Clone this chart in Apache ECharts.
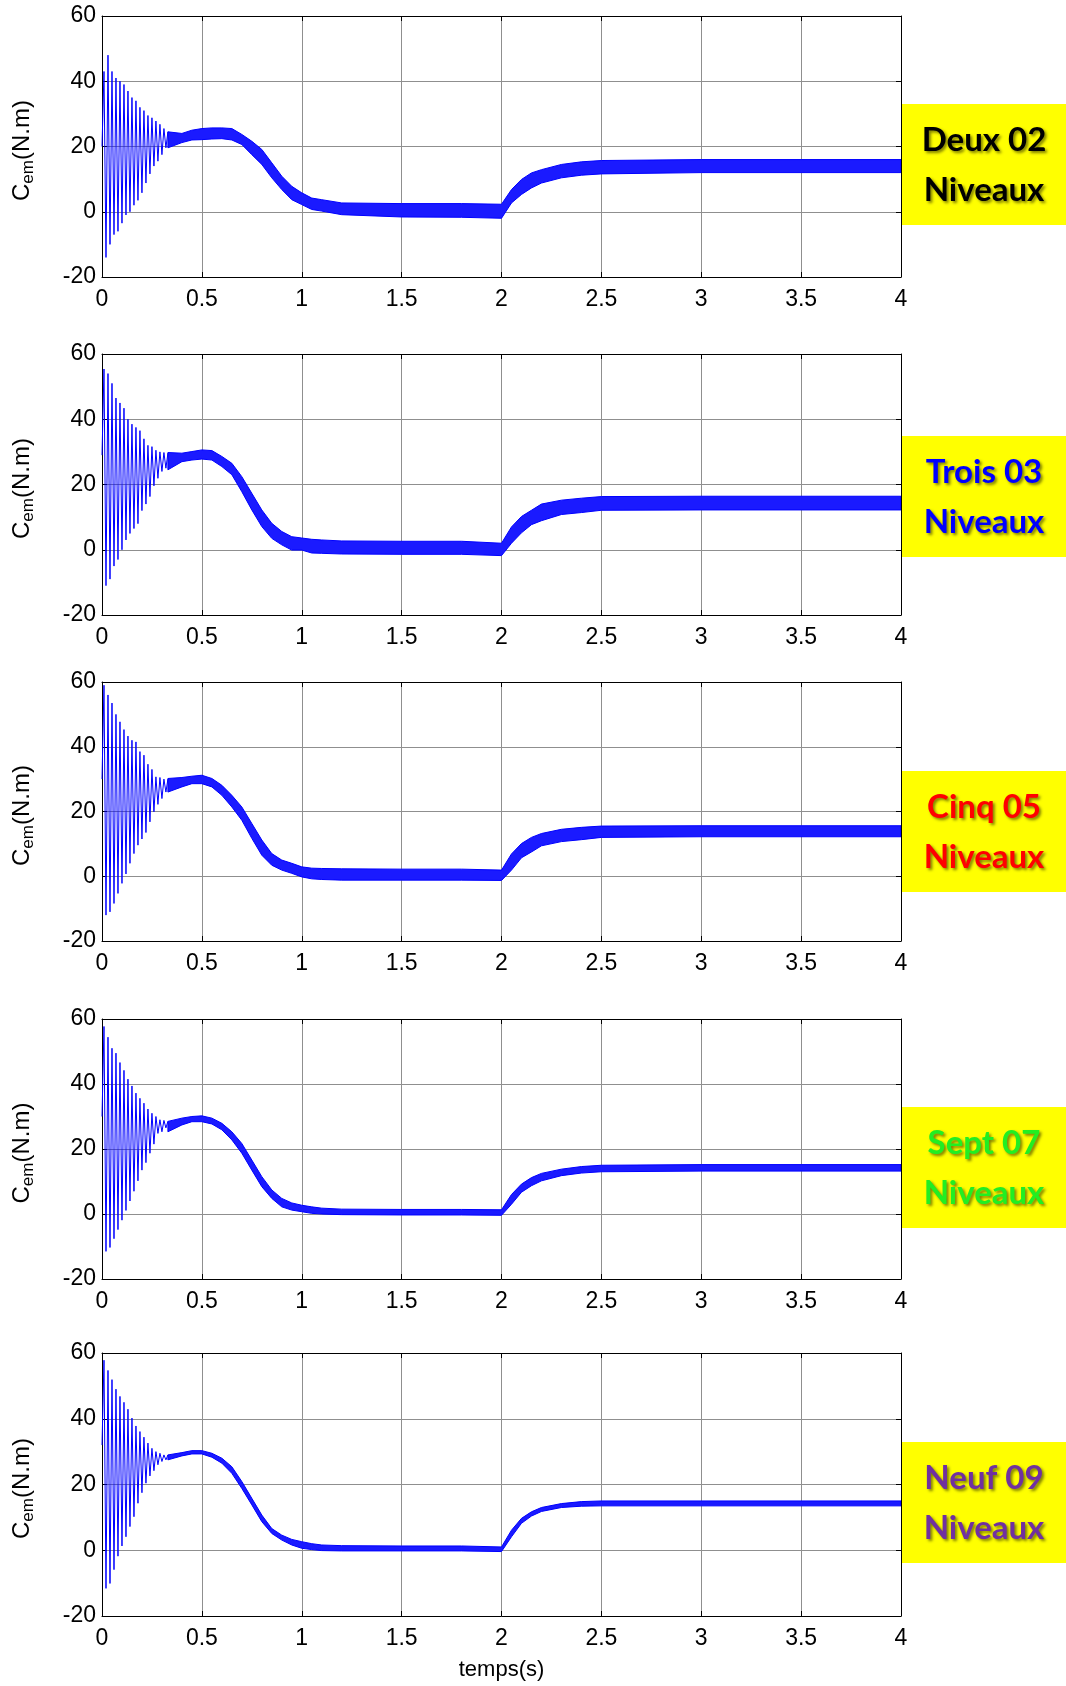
<!DOCTYPE html>
<html><head><meta charset="utf-8">
<script src="https://cdn.jsdelivr.net/npm/echarts@6/dist/echarts.min.js"></script>
<style>html,body{margin:0;padding:0;background:#fff}#c{width:1066px;height:1686px}</style>
</head><body><div id="c"></div>
<script>
// ---------- DATA ----------
// start-up transient: time points (s), alternating peaks / troughs
const tTrans = [0,0.01,0.02,0.03,0.04,0.05,0.06,0.07,0.08,0.09,0.10,0.11,0.12,0.13,0.14,0.15,0.16,0.17,0.18,0.19,0.20,0.21,0.22,0.23,0.24,0.25,0.26,0.27,0.28,0.29,0.30,0.31,0.32,0.33];
const trans2 = [20,43,-14,48,-10,43,-7,41,-6,40,-3.5,39,-1,37,0,35,2,34,3.5,32,5.8,31,8.8,29.5,11.6,28.8,14,27.8,15.5,26.8,17.5,25.5,19.6,24.5];
const trans3 = [29,55.4,-11,54,-9,51,-5,46.5,-3,45,0,43.4,3,40,5,38.5,6.5,37.5,8,36.5,12,34,14,32,16.3,31.6,19.6,30.5,21.9,30,24,29.8,25,29.6];
const trans5 = [30,59,-12,56,-11,53.5,-8.4,50,-5.3,47.7,-2.2,45.3,0.7,43.3,4,42,7,41.5,9.6,38.5,11.5,37.4,13.5,34.6,16.8,33,19.9,30.7,22.2,30.5,24,30,26,30];
const trans7 = [30,57.7,-11.5,54.4,-10.3,51,-7.6,49.5,-4.8,46.6,-1.9,44.2,1.1,41.5,4,39.4,7,37.2,10.2,35.6,13.5,34.1,15.8,32.3,18.7,31,21.5,30,24.8,29,25.3,28.8,26.5,28.5];
const trans9 = [32,57.8,-11.6,54.7,-10.1,51.9,-5.9,49,-1.8,46.8,1.3,45,4.1,42.9,7.2,40.2,10.2,37.8,14.3,36.1,17.5,34.4,20.4,32.6,22.6,31,24.2,30,26,29.5,27,29,27.5,29];

// ripple envelope after the transient: time points (s), upper / lower edge of the ripple band
const tEnv = [0.33,0.4,0.45,0.5,0.55,0.6,0.65,0.7,0.75,0.8,0.85,0.9,0.95,1.0,1.05,1.1,1.2,1.5,1.8,2.0,2.05,2.1,2.15,2.2,2.3,2.4,2.5,3.0,3.5,4.0];
const hi2 = [24.5,24,25,25.5,25.7,25.7,25.5,23.7,21.6,19.1,15,10.9,7.8,5.8,4.2,3.7,2.7,2.5,2.5,2.3,6.8,9.9,11.9,12.9,14.5,15.3,15.7,16,16,16];
const lo2 = [19.6,21.2,22,22.1,22.3,22.4,22,20.6,17.5,14.5,10.4,6.8,3.7,2.2,0.7,0.2,-0.9,-1.6,-1.7,-2,2.7,5.3,7.3,8.8,10.4,11.2,11.6,12,12,12];
const hi3 = [29.8,29.6,30.1,30.6,30.4,28.6,26.5,22.4,17.3,12.2,8.1,5.6,4,3.6,3.2,3,2.7,2.6,2.6,2,7,10.2,12.1,14,15.2,15.8,16.3,16.4,16.4,16.4];
const lo3 = [24.5,27,27.5,27.8,27.5,25.5,23,17.8,12.2,7.1,3.5,1.5,-0.1,-0.1,-1,-1.1,-1.3,-1.4,-1.4,-1.8,2,5.2,7.7,8.9,10.8,11.4,12.1,12.2,12.2,12.2];
const hi5 = [30.2,30.5,30.9,31.2,30.2,28.1,25,21.4,16.3,11.2,7,5,4,2.9,2.5,2.4,2.3,2.2,2.2,1.9,6.9,10.1,12,13.2,14.5,15.1,15.5,15.6,15.6,15.6];
const lo5 = [26,27.6,28.6,28.6,27.6,25,21.4,17.3,11.7,6.5,3.4,1.9,0.9,-0.2,-0.8,-1,-1.2,-1.2,-1.2,-1.3,1.9,5.7,7.5,9.4,10.7,11.3,12,12.2,12.2,12.2];
const hi7 = [28.5,29.5,30,30.2,29.5,27.9,25.3,21.7,16.6,11.5,7.4,4.8,3.4,2.7,2.2,1.8,1.5,1.4,1.4,1.3,6,9.2,11.2,12.5,13.8,14.6,15,15.2,15.2,15.2];
const lo7 = [25.3,27.4,28.4,28.4,27.7,25.9,22.8,18.7,13.5,8.4,4.8,2.2,1.2,0.7,0.2,0,-0.2,-0.3,-0.3,-0.4,3,6.7,8.7,10.2,11.8,12.6,13,13.2,13.2,13.2];
const hi9 = [29,29.7,30.3,30.3,29.5,28,25.4,20.9,15.8,10.7,6.6,4.6,3.3,2.6,2,1.6,1.4,1.3,1.3,1,6.1,9.7,11.7,13,14.2,14.8,15,15,15,15];
const lo9 = [27.5,28.7,29.3,29.3,28.3,26.5,23.4,18.8,13.8,8.7,5.1,3.1,1.6,0.6,0.2,-0.1,-0.2,-0.2,-0.2,-0.4,4.1,8.2,10.4,11.8,13,13.4,13.5,13.5,13.5,13.5];

// axis ticks
const xMin = 0, xMax = 4, xStep = 0.5;
const yMin = -20, yMax = 60, yStep = 20;

// panel texts
const levelLine1 = ['Deux 02','Trois 03','Cinq 05','Sept 07','Neuf 09'];
const levelLine2 = ['Niveaux','Niveaux','Niveaux','Niveaux','Niveaux'];
const yLabelMain = 'C', yLabelSub = 'em', yLabelUnit = '(N.m)';
const xLabel = 'temps(s)';

// ---------- LAYOUT / STYLE ----------
const panels = [
  {top:16,  height:261, boxTop:104,  trans:trans2, hi:hi2, lo:lo2, color:'#000000'},
  {top:354, height:261, boxTop:436,  trans:trans3, hi:hi3, lo:lo3, color:'#0000ff'},
  {top:682, height:259, boxTop:771,  trans:trans5, hi:hi5, lo:lo5, color:'#ff0000'},
  {top:1019,height:260, boxTop:1107, trans:trans7, hi:hi7, lo:lo7, color:'#22ee22'},
  {top:1353,height:263, boxTop:1442, trans:trans9, hi:hi9, lo:lo9, color:'#7030a0'}
];
const LEFT = 102, RIGHT = 901;
const BLUE = '#0000ff';
const FONT = 'Liberation Sans, Arial, sans-serif';

const grids = [], xAxes = [], yAxes = [], series = [], graphics = [];
panels.forEach((p, k) => {
  grids.push({left: LEFT, width: RIGHT - LEFT, top: p.top, height: p.height});
  const tick = {show:true, inside:true, length:5, lineStyle:{color:'#000', width:1}};
  const line = {show:true, onZero:false, lineStyle:{color:'#000', width:1}};
  xAxes.push({gridIndex:k, type:'value', min:xMin, max:xMax, interval:xStep, position:'bottom',
    axisLine:line, axisTick:tick,
    axisLabel:{show:true, margin:11, fontSize:23, color:'#000', fontFamily:FONT, showMinLabel:true, showMaxLabel:true},
    splitLine:{show:true, lineStyle:{color:'#8f8f8f', width:1}},
    name: k === panels.length - 1 ? xLabel : '', nameLocation:'middle', nameGap:43,
    nameTextStyle:{fontSize:22, color:'#000', fontFamily:FONT}});
  xAxes.push({gridIndex:k, type:'value', min:xMin, max:xMax, interval:xStep, position:'top',
    axisLine:line, axisTick:tick, axisLabel:{show:false}, splitLine:{show:false}});
  yAxes.push({gridIndex:k, type:'value', min:yMin, max:yMax, interval:yStep, position:'left',
    axisLine:line, axisTick:tick,
    axisLabel:{show:true, margin:6, fontSize:23, color:'#000', fontFamily:FONT},
    splitLine:{show:true, lineStyle:{color:'#8f8f8f', width:1}}});
  yAxes.push({gridIndex:k, type:'value', min:yMin, max:yMax, interval:yStep, position:'right',
    axisLine:line, axisTick:tick, axisLabel:{show:false}, splitLine:{show:false}});

  const xi = 2*k, yi = 2*k;
  // transient oscillation as a line
  series.push({type:'line', xAxisIndex:xi, yAxisIndex:yi, showSymbol:false, symbol:'none',
    data: tTrans.map((t,i)=>[t, p.trans[i]]), lineStyle:{color:BLUE, width:1}, z:3});
  // ripple band between lower and upper envelope, one polygon placed through the axis scales
  const tArr = tEnv, hiArr = p.hi, loArr = p.lo;
  series.push({type:'custom', xAxisIndex:xi, yAxisIndex:yi, z:3, clip:true,
    data: tEnv.map((t,i)=>[t, loArr[i], hiArr[i]]),
    encode:{x:0, y:[1,2]},
    renderItem: function(params, api){
      if (params.dataIndex !== 0) return null;
      const pts = [];
      for (let i = 0; i < tArr.length; i++) pts.push(api.coord([tArr[i], hiArr[i]]));
      for (let i = tArr.length - 1; i >= 0; i--) pts.push(api.coord([tArr[i], loArr[i]]));
      return {type:'polygon', shape:{points:pts},
        style:{fill:'#1a1aff', stroke:'#0000ff', lineWidth:1, lineJoin:'round'}};
    }});

  // y axis label C_em(N.m)
  graphics.push({type:'text', x:22, y:p.top + p.height/2 + 4, rotation:Math.PI/2, z:50,
    style:{text:'{c|' + yLabelMain + '}{s|' + yLabelSub + '}{c|' + yLabelUnit + '}',
      align:'center', verticalAlign:'middle',
      rich:{c:{fontSize:24, fontFamily:FONT, fill:'#000', lineHeight:30, verticalAlign:'middle'},
            s:{fontSize:17, fontFamily:FONT, fill:'#000', lineHeight:17, verticalAlign:'bottom'}}}});
  // yellow level box
  graphics.push({type:'rect', z:60, shape:{x:902, y:p.boxTop, width:164, height:121}, style:{fill:'#ffff00'}});
  graphics.push({type:'text', z:61, x:984, y:p.boxTop + 61,
    style:{text: levelLine1[k] + '\n' + levelLine2[k], align:'center', verticalAlign:'middle',
      fontSize:33, fontWeight:'bold', fontFamily:'Lato, Noto Sans, sans-serif', lineHeight:50, fill:p.color,
      textShadowColor:'rgba(0,0,0,0.5)', textShadowBlur:3, textShadowOffsetX:2, textShadowOffsetY:2}});
});

const chart = echarts.init(document.getElementById('c'), null, {renderer:'canvas'});
chart.setOption({
  animation:false, backgroundColor:'#fff',
  grid:grids, xAxis:xAxes, yAxis:yAxes, series:series, graphic:graphics
});
</script></body></html>
